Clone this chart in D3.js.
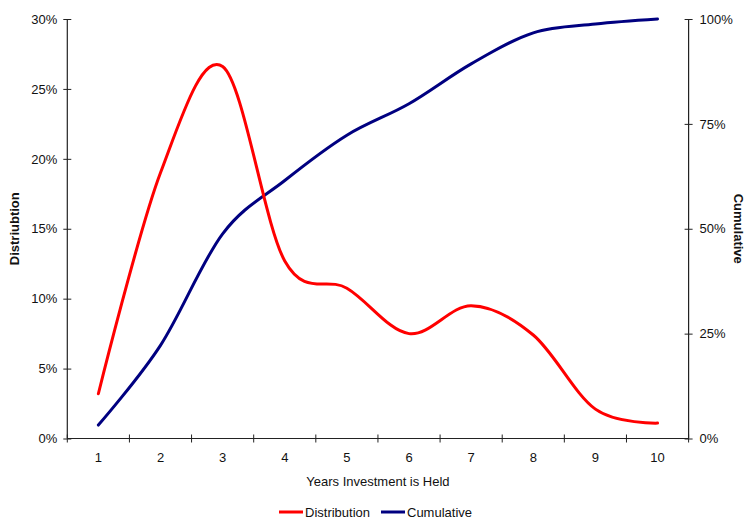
<!DOCTYPE html>
<html>
<head>
<meta charset="utf-8">
<script src="https://cdn.jsdelivr.net/npm/d3@7"></script>
<style>
  html, body { margin: 0; padding: 0; background: #fff; }
  svg { display: block; font-family: "Liberation Sans", Arial, sans-serif; }
</style>
</head>
<body>
<svg id="chart" width="748" height="518"></svg>
<script>
// Years the investment is held
const years = [1, 2, 3, 4, 5, 6, 7, 8, 9, 10];
// Share of investments held for each number of years (%)
const distribution = [3.2, 19.0, 26.6, 12.7, 10.75, 7.5, 9.5, 7.4, 2.1, 1.1];
// Running total of the distribution (%)
const cumulative = [3.2, 22.2, 48.8, 61.5, 72.3, 79.8, 89.3, 96.7, 98.8, 100];
const leftTicks = [0, 5, 10, 15, 20, 25, 30];
const rightTicks = [0, 25, 50, 75, 100];

const svg = d3.select("#chart");
const m = { left: 67.3, right: 688.6, top: 19, bottom: 438.5 };
const axisColor = "#222";

const x = d3.scaleBand().domain(years).range([m.left, m.right]).padding(0);
const yL = d3.scaleLinear().domain([0, 30]).range([m.bottom, m.top]);
const yR = d3.scaleLinear().domain([0, 100]).range([m.bottom, m.top]);
const cx = d => x(d) + x.bandwidth() / 2;

// Smooth lines
const lineL = d3.line().x((d, i) => cx(years[i])).y(d => yL(d)).curve(d3.curveCatmullRom.alpha(0));
const lineR = d3.line().x((d, i) => cx(years[i])).y(d => yR(d)).curve(d3.curveCatmullRom.alpha(0));

svg.append("path").attr("d", lineR(cumulative))
  .attr("fill", "none").attr("stroke", "#000080").attr("stroke-width", 3)
  .attr("stroke-linecap", "round").attr("stroke-linejoin", "round");
svg.append("path").attr("d", lineL(distribution))
  .attr("fill", "none").attr("stroke", "#ff0000").attr("stroke-width", 3)
  .attr("stroke-linecap", "round").attr("stroke-linejoin", "round");

// Left axis
const gL = svg.append("g").attr("transform", `translate(${m.left},0)`)
  .call(d3.axisLeft(yL).tickValues(leftTicks).tickFormat(d => d + "%").tickSize(4).tickPadding(6));
gL.selectAll(".tick line").attr("x2", -4).attr("x1", 4);

// Right axis
const gR = svg.append("g").attr("transform", `translate(${m.right},0)`)
  .call(d3.axisRight(yR).tickValues(rightTicks).tickFormat(d => d + "%").tickSize(4).tickPadding(7));
gR.selectAll(".tick line").attr("x1", -4).attr("x2", 4);

// Bottom axis with ticks between categories
const gB = svg.append("g").attr("transform", `translate(0,${m.bottom})`)
  .call(d3.axisBottom(x).tickSize(0).tickPadding(14));
const edges = years.map(d => x(d)).concat([m.right]);
gB.selectAll(".edge").data(edges).enter().append("line")
  .attr("x1", d => d).attr("x2", d => d).attr("y1", -4).attr("y2", 4)
  .attr("stroke", axisColor);

[gL, gR, gB].forEach(g => {
  g.select(".domain").attr("stroke", axisColor).attr("stroke-width", 1.2);
  g.selectAll(".tick line").attr("stroke", axisColor);
  g.selectAll("text").attr("font-size", 13).attr("fill", "#111")
    .attr("font-family", "Liberation Sans, Arial, sans-serif");
});
gL.select(".domain").attr("d", `M0,${m.top}V${m.bottom}`);
gR.select(".domain").attr("d", `M0,${m.top}V${m.bottom}`);
gB.select(".domain").attr("d", `M${m.left},0H${m.right}`);

// Axis titles
svg.append("text").attr("transform", `translate(19,${(m.top + m.bottom) / 2}) rotate(-90)`)
  .attr("text-anchor", "middle").attr("font-size", 13).attr("font-weight", "bold")
  .attr("fill", "#111").text("Distriubtion");
svg.append("text").attr("transform", `translate(734,${(m.top + m.bottom) / 2}) rotate(90)`)
  .attr("text-anchor", "middle").attr("font-size", 13).attr("font-weight", "bold")
  .attr("fill", "#111").text("Cumulative");
svg.append("text").attr("x", (m.left + m.right) / 2).attr("y", 486)
  .attr("text-anchor", "middle").attr("font-size", 13).attr("fill", "#111")
  .text("Years Investment is Held");

// Legend
const legend = [
  { name: "Distribution", color: "#ff0000", x: 279 },
  { name: "Cumulative", color: "#000080", x: 381 }
];
const lg = svg.append("g").selectAll("g").data(legend).enter().append("g")
  .attr("transform", d => `translate(${d.x},512)`);
lg.append("line").attr("x1", 0).attr("x2", 24).attr("y1", 0).attr("y2", 0)
  .attr("stroke", d => d.color).attr("stroke-width", 3);
lg.append("text").attr("x", 26).attr("y", 4.5).attr("font-size", 13).attr("fill", "#111")
  .text(d => d.name);
</script>
</body>
</html>
